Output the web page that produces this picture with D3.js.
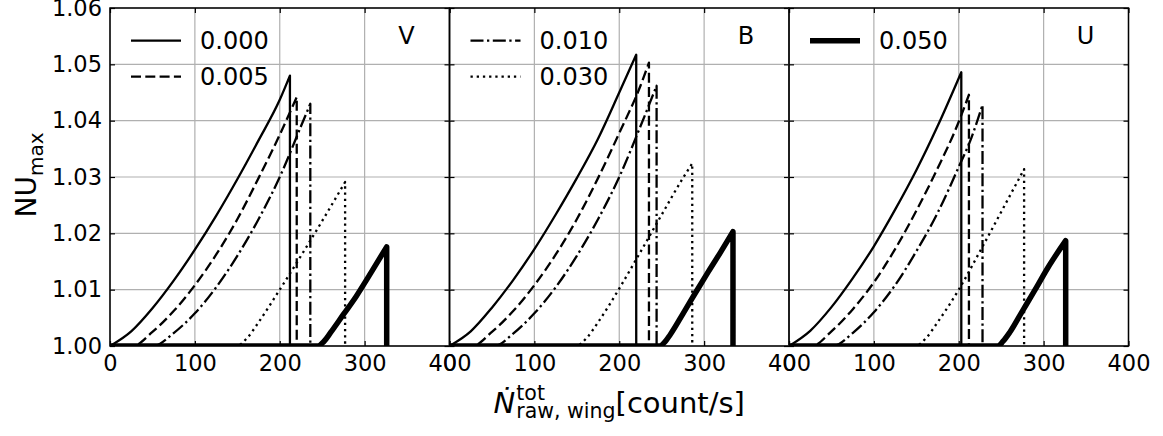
<!DOCTYPE html>
<html>
<head>
<meta charset="utf-8">
<script src="https://cdn.jsdelivr.net/npm/d3@7"></script>
<style>
body { margin: 0; background: #fff; }
svg { font-family: "DejaVu Sans", sans-serif; }
</style>
</head>
<body>
<svg id="chart" width="1163" height="436"></svg>
<script>
// panels and legend entries
var bands = ["V", "B", "U"];
var alphas = ["0.000", "0.005", "0.010", "0.030", "0.050"];
var legendRows = [[0, 1], [2, 3], [4]];
var xTicks = [0, 100, 200, 300, 400];
var yTicks = [1.00, 1.01, 1.02, 1.03, 1.04, 1.05, 1.06];
var baseValue = 1.00;

// curves: [count/s, NU_max], last point = peak before the drop
var V_000 = [[0,1.0],[25,1.0026],[50,1.0067],[75,1.0116],[100,1.0171],[125,1.0231],[150,1.0296],[175,1.0365],[200,1.0437],[212,1.0480]];
var V_005 = [[0,1.0],[27,1.0],[50,1.0025],[75,1.0062],[100,1.0108],[125,1.0162],[150,1.0225],[175,1.0298],[200,1.0375],[220,1.0442]];
var V_010 = [[0,1.0],[51,1.0],[75,1.0023],[100,1.0058],[125,1.0104],[150,1.0160],[175,1.0225],[200,1.0300],[225,1.0390],[236,1.0430]];
var V_030 = [[0,1.0],[149,1.0],[162,1.0015],[175,1.0042],[200,1.0100],[225,1.0160],[250,1.0222],[277,1.0291]];
var V_050 = [[0,1.0],[245,1.0],[252,1.0008],[260,1.0024],[275,1.0056],[290,1.0088],[305,1.0124],[326,1.0176]];

var B_000 = [[0,1.0],[25,1.0026],[50,1.0068],[75,1.0117],[100,1.0172],[125,1.0233],[150,1.0298],[175,1.0368],[200,1.0450],[220,1.0517]];
var B_005 = [[0,1.0],[27,1.0],[50,1.0025],[75,1.0062],[100,1.0108],[125,1.0162],[150,1.0225],[175,1.0298],[200,1.0378],[225,1.0462],[235,1.0503]];
var B_010 = [[0,1.0],[53,1.0],[75,1.0022],[100,1.0058],[125,1.0104],[150,1.0160],[175,1.0225],[200,1.0300],[225,1.0390],[244,1.0462]];
var B_030 = [[0,1.0],[149,1.0],[162,1.0015],[175,1.0042],[200,1.0102],[225,1.0167],[250,1.0233],[275,1.0298],[286,1.0324]];
var B_050 = [[0,1.0],[248,1.0],[253,1.0006],[260,1.0020],[275,1.0057],[290,1.0095],[305,1.0132],[320,1.0168],[334,1.0203]];

var U_000 = [[0,1.0],[25,1.0027],[50,1.0069],[75,1.0120],[100,1.0177],[125,1.0242],[150,1.0312],[175,1.0390],[203,1.0486]];
var U_005 = [[0,1.0],[27,1.0],[50,1.0026],[75,1.0065],[100,1.0113],[125,1.0172],[150,1.0240],[175,1.0315],[200,1.0398],[212,1.0446]];
var U_010 = [[0,1.0],[52,1.0],[75,1.0023],[100,1.0060],[125,1.0108],[150,1.0168],[175,1.0236],[200,1.0318],[215,1.0370],[228,1.0428]];
var U_030 = [[0,1.0],[149,1.0],[162,1.0015],[175,1.0042],[200,1.0100],[225,1.0168],[250,1.0238],[277,1.0314]];
var U_050 = [[0,1.0],[246,1.0],[252,1.0008],[260,1.0024],[275,1.0062],[290,1.0100],[305,1.0139],[326,1.0187]];

var curves = {
  V: [V_000, V_005, V_010, V_030, V_050],
  B: [B_000, B_005, B_010, B_030, B_050],
  U: [U_000, U_005, U_010, U_030, U_050]
};

// line styles per alpha
var lineWidth = [2.3, 2.3, 2.3, 2.3, 5.5];
var lineDash = [null, "10,4.3", "13,3.5,2.3,3.5", "2.3,3.9", null];

(function draw() {
var svg = d3.select("#chart");
var left = 110, plotTop = 8, panelW = 339.5, plotH = 338;
var fs = 22.5, legFs = 24;

var y = d3.scaleLinear().domain([1.00, 1.06]).range([plotTop + plotH, plotTop]);

bands.forEach(function(band, i) {
  var x0 = left + i * panelW;
  var x = d3.scaleLinear().domain([0, 400]).range([x0, x0 + panelW]);
  var g = svg.append("g");

  g.append("clipPath").attr("id", "clip" + i)
    .append("rect").attr("x", x0).attr("y", plotTop).attr("width", panelW).attr("height", plotH);

  // grid
  g.selectAll(".gx").data(xTicks).enter().append("line")
    .attr("x1", function(d){ return x(d); }).attr("x2", function(d){ return x(d); })
    .attr("y1", plotTop).attr("y2", plotTop + plotH)
    .attr("stroke", "#b0b0b0").attr("stroke-width", 1.2);
  g.selectAll(".gy").data(yTicks).enter().append("line")
    .attr("x1", x0).attr("x2", x0 + panelW)
    .attr("y1", function(d){ return y(d); }).attr("y2", function(d){ return y(d); })
    .attr("stroke", "#b0b0b0").attr("stroke-width", 1.2);

  // curves
  var rise = d3.line().x(function(d){ return x(d[0]); }).y(function(d){ return y(d[1]); }).curve(d3.curveMonotoneX);
  var drop = d3.line().x(function(d){ return x(d[0]); }).y(function(d){ return y(d[1]); });
  curves[band].forEach(function(pts, k) {
    var peak = pts[pts.length - 1];
    var d = rise(pts) + drop([peak, [peak[0], baseValue]]).replace(/^M/, "L");
    g.append("path").attr("d", d)
      .attr("clip-path", "url(#clip" + i + ")")
      .attr("fill", "none").attr("stroke", "#000")
      .attr("stroke-width", lineWidth[k])
      .attr("stroke-dasharray", lineDash[k])
      .attr("stroke-linejoin", "round");
  });

  // axes, ticks pointing inward
  var ax = g.append("g").attr("transform", "translate(0," + (plotTop + plotH) + ")")
    .call(d3.axisBottom(x).tickValues(xTicks).tickSize(-5).tickPadding(9).tickFormat(d3.format("d")));
  ax.select(".domain").remove();
  ax.selectAll("text").attr("font-size", fs).attr("fill", "#000").attr("font-family", "DejaVu Sans");
  var axt = g.append("g").attr("transform", "translate(0," + plotTop + ")")
    .call(d3.axisTop(x).tickValues(xTicks).tickSize(-5).tickFormat(""));
  axt.select(".domain").remove();

  var ay = g.append("g").attr("transform", "translate(" + x0 + ",0)")
    .call(d3.axisLeft(y).tickValues(yTicks).tickSize(-5).tickPadding(8)
      .tickFormat(i === 0 ? d3.format(".2f") : ""));
  ay.select(".domain").remove();
  ay.selectAll("text").attr("font-size", fs).attr("fill", "#000").attr("font-family", "DejaVu Sans");
  var ayr = g.append("g").attr("transform", "translate(" + (x0 + panelW) + ",0)")
    .call(d3.axisRight(y).tickValues(yTicks).tickSize(-5).tickFormat(""));
  ayr.select(".domain").remove();
  g.selectAll(".tick line").attr("stroke", "#000").attr("stroke-width", 1.2);

  g.append("rect").attr("x", x0).attr("y", plotTop).attr("width", panelW).attr("height", plotH)
    .attr("fill", "none").attr("stroke", "#000").attr("stroke-width", 1.5);

  // band letter
  g.append("text").attr("x", x0 + panelW - 43).attr("y", 44)
    .attr("text-anchor", "middle").attr("font-size", legFs).text(band);

  // legend
  legendRows[i].forEach(function(k, r) {
    var ly = 40.7 + r * 36;
    g.append("line").attr("x1", x0 + 21).attr("x2", x0 + 71).attr("y1", ly).attr("y2", ly)
      .attr("stroke", "#000").attr("stroke-width", lineWidth[k])
      .attr("stroke-dasharray", lineDash[k]);
    g.append("text").attr("x", x0 + 90).attr("y", ly).attr("dy", "0.36em")
      .attr("font-size", legFs).text(alphas[k]);
  });
});

// y label
var yl = svg.append("text").attr("transform", "translate(36," + (plotTop + plotH / 2 - 2) + ") rotate(-90)")
  .attr("text-anchor", "middle");
yl.append("tspan").attr("font-size", 28).text("NU");
yl.append("tspan").attr("font-size", 20).attr("dy", 7).text("max");

// x label: N-dot with stacked super/subscript then unit
var xl = svg.append("g");
var mainFs = 29, subFs = 20.5, base = 413;
var nTxt = xl.append("text").attr("y", base).attr("font-size", mainFs).attr("font-style", "italic").text("\u1E44");
var supTxt = xl.append("text").attr("y", base - 13).attr("font-size", subFs).text("tot");
var subTxt = xl.append("text").attr("y", base + 5).attr("font-size", subFs).text("raw, wing");
var unitTxt = xl.append("text").attr("y", base).attr("font-size", mainFs).text("[count/s]");
var wN = nTxt.node().getComputedTextLength();
var wS = Math.max(supTxt.node().getComputedTextLength(), subTxt.node().getComputedTextLength());
var wU = unitTxt.node().getComputedTextLength();
var total = wN + 1 + wS + wU;
var sx = left + 1.5 * panelW - total / 2;
nTxt.attr("x", sx);
supTxt.attr("x", sx + wN + 1);
subTxt.attr("x", sx + wN + 1);
unitTxt.attr("x", sx + wN + 1 + wS);
})();
</script>
</body>
</html>
